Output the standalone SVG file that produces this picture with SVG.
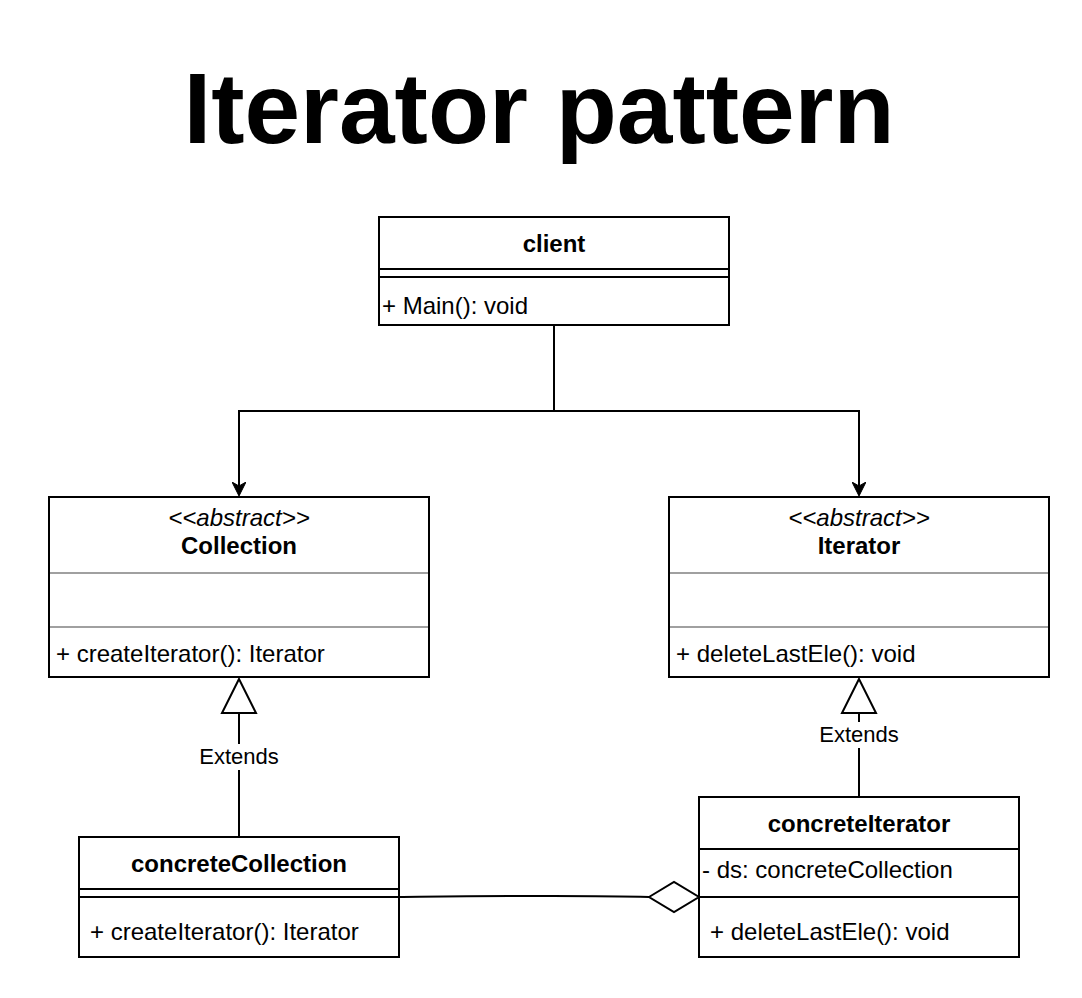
<svg xmlns="http://www.w3.org/2000/svg" width="1082" height="998" viewBox="0 0 1082 998">
<defs>
<style>
.box{fill:#fff;stroke:#000;stroke-width:2}
.sep{stroke:#000;stroke-width:2}
.gsep{stroke:#a0a0a0;stroke-width:2}
.t{font-family:"Liberation Sans",Arial,sans-serif;font-size:24px;fill:#000}
.b{font-weight:bold}
.c{text-anchor:middle}
.i{font-style:italic}
.lbl{font-family:"Liberation Sans",Arial,sans-serif;font-size:22px;fill:#000;text-anchor:middle}
.ln{fill:none;stroke:#000;stroke-width:2}
</style>
<marker id="arr" markerWidth="14" markerHeight="14" viewBox="0 0 14 14" refX="13" refY="7" orient="auto" markerUnits="userSpaceOnUse">
<path d="M0,0 L14,7 L0,14 L4,7 Z" fill="#000" stroke="#000" stroke-width="1"/>
</marker>
</defs>
<rect width="1082" height="998" fill="#fff"/>
<text x="539" y="143" font-family="Liberation Sans,Arial,sans-serif" font-weight="bold" font-size="100" text-anchor="middle">Iterator pattern</text>

<g id="connectors">
<path class="ln" d="M554,325 V411 H239 V495" marker-end="url(#arr)"/>
<path class="ln" d="M554,411 H859 V495" marker-end="url(#arr)"/>
<path class="ln" d="M239,837 V770 M239,744 V713"/>
<polygon points="239,679 222,713 256,713" fill="#fff" stroke="#000" stroke-width="2"/>
<text class="lbl" x="239" y="764">Extends</text>
<path class="ln" d="M859,797 V748 M859,722 V713"/>
<polygon points="859,679 842,713 876,713" fill="#fff" stroke="#000" stroke-width="2"/>
<text class="lbl" x="859" y="742">Extends</text>
<path class="ln" d="M399,897 C500,896 580,895 649,897"/>
<polygon points="649,897 674,882 699,897 674,912" fill="#fff" stroke="#000" stroke-width="2"/>
</g>

<g id="client">
<rect class="box" x="379" y="217" width="350" height="108"/>
<line class="sep" x1="379" y1="269" x2="729" y2="269"/>
<line class="sep" x1="379" y1="277" x2="729" y2="277"/>
<text class="t b c" x="554" y="252">client</text>
<text class="t" x="382" y="314">+ Main(): void</text>
</g>

<g id="collection">
<rect class="box" x="49" y="497" width="380" height="180"/>
<line class="gsep" x1="50" y1="573" x2="428" y2="573"/>
<line class="gsep" x1="50" y1="627" x2="428" y2="627"/>
<text class="t i c" x="239" y="526">&lt;&lt;abstract&gt;&gt;</text>
<text class="t b c" x="239" y="554">Collection</text>
<text class="t" x="56" y="662">+ createIterator(): Iterator</text>
</g>

<g id="iterator">
<rect class="box" x="669" y="497" width="380" height="180"/>
<line class="gsep" x1="670" y1="573" x2="1048" y2="573"/>
<line class="gsep" x1="670" y1="627" x2="1048" y2="627"/>
<text class="t i c" x="859" y="526">&lt;&lt;abstract&gt;&gt;</text>
<text class="t b c" x="859" y="554">Iterator</text>
<text class="t" x="676" y="662">+ deleteLastEle(): void</text>
</g>

<g id="concreteCollection">
<rect class="box" x="79" y="837" width="320" height="120"/>
<line class="sep" x1="79" y1="889" x2="399" y2="889"/>
<line class="sep" x1="79" y1="897" x2="399" y2="897"/>
<text class="t b c" x="239" y="872">concreteCollection</text>
<text class="t" x="90" y="940">+ createIterator(): Iterator</text>
</g>

<g id="concreteIterator">
<rect class="box" x="699" y="797" width="320" height="160"/>
<line class="sep" x1="699" y1="849" x2="1019" y2="849"/>
<line class="sep" x1="699" y1="897" x2="1019" y2="897"/>
<text class="t b c" x="859" y="832">concreteIterator</text>
<text class="t" x="702" y="878">- ds: concreteCollection</text>
<text class="t" x="710" y="940">+ deleteLastEle(): void</text>
</g>
</svg>
